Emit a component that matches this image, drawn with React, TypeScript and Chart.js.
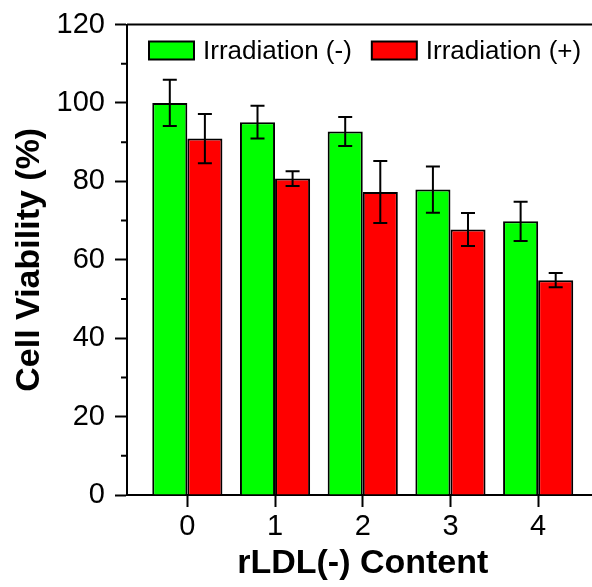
import React, { useEffect, useRef } from "react";
import { Chart, registerables } from "chart.js";

Chart.register(...registerables);

// ---- Data ----
const contentLevels = [0, 1, 2, 3, 4];
const seriesLabels = ["Irradiation (-)", "Irradiation (+)"];
const irradiationMinus = [100, 95.1, 92.7, 77.9, 69.8];
const irradiationMinusErr = [5.9, 4.2, 3.7, 5.9, 5.0];
const irradiationPlus = [90.9, 80.7, 77.3, 67.7, 54.8];
const irradiationPlusErr = [6.3, 1.9, 7.9, 4.2, 1.8];
const yTicks = [0, 20, 40, 60, 80, 100, 120];
const xTitle = "rLDL(-) Content";
const yTitle = "Cell Viability (%)";

const FONT = "'Liberation Sans', Arial, Helvetica, sans-serif";

const errorBarsPlugin = {
  id: "errorBars",
  afterDatasetsDraw(chart: any) {
    const ctx = chart.ctx;
    const yScale = chart.scales.y;
    chart.data.datasets.forEach((ds: any, di: number) => {
      const meta = chart.getDatasetMeta(di);
      const errs: number[] = ds.errors || [];
      meta.data.forEach((el: any, i: number) => {
        const v = ds.data[i].y;
        const e = errs[i];
        if (e == null) return;
        const x = el.x;
        const yTop = yScale.getPixelForValue(v + e);
        const yBot = yScale.getPixelForValue(v - e);
        const cap = 7;
        ctx.save();
        ctx.strokeStyle = "#000";
        ctx.lineWidth = 2;
        ctx.beginPath();
        ctx.moveTo(x, yTop);
        ctx.lineTo(x, yBot);
        ctx.moveTo(x - cap, yTop);
        ctx.lineTo(x + cap, yTop);
        ctx.moveTo(x - cap, yBot);
        ctx.lineTo(x + cap, yBot);
        ctx.stroke();
        ctx.restore();
      });
    });
  },
};

const framePlugin = {
  id: "frame",
  afterDraw(chart: any) {
    const ctx = chart.ctx;
    const { left, right, top, bottom } = chart.chartArea;
    const yScale = chart.scales.y;
    ctx.save();
    ctx.strokeStyle = "#000";
    ctx.lineWidth = 2;
    ctx.beginPath();
    ctx.moveTo(left, top);
    ctx.lineTo(right, top);
    ctx.moveTo(right, top);
    ctx.lineTo(right, bottom);
    // minor ticks halfway between major y ticks
    const t = yScale.ticks;
    for (let i = 0; i < t.length - 1; i++) {
      const mid = (t[i].value + t[i + 1].value) / 2;
      const py = yScale.getPixelForValue(mid);
      ctx.moveTo(left - 6, py);
      ctx.lineTo(left, py);
    }
    ctx.stroke();

    // legend inside plot area
    ctx.font = `26px ${FONT}`;
    ctx.textBaseline = "middle";
    ctx.textAlign = "left";
    let bx = left + 22;
    const by = top + 17;
    const bw = 45;
    const bh = 18;
    chart.data.datasets.forEach((ds: any) => {
      ctx.fillStyle = ds.backgroundColor;
      ctx.fillRect(bx, by, bw, bh);
      ctx.strokeRect(bx, by, bw, bh);
      ctx.fillStyle = "#000";
      const tx = bx + bw + 9;
      ctx.fillText(ds.label, tx, by + bh / 2 + 1);
      bx = tx + ctx.measureText(ds.label).width + 20;
    });
    ctx.restore();
  },
};

export default function App() {
  const canvasRef = useRef<HTMLCanvasElement | null>(null);

  useEffect(() => {
    if (!canvasRef.current) return;
    const chart = new Chart(canvasRef.current, {
      type: "bar",
      data: {
        datasets: [
          {
            label: seriesLabels[0],
            data: contentLevels.map((x, i) => ({ x, y: irradiationMinus[i] })),
            errors: irradiationMinusErr,
            backgroundColor: "#00ff00",
            borderColor: "#000",
            borderWidth: 2,
            borderSkipped: "bottom",
            categoryPercentage: 0.8,
            barPercentage: 1,
          } as any,
          {
            label: seriesLabels[1],
            data: contentLevels.map((x, i) => ({ x, y: irradiationPlus[i] })),
            errors: irradiationPlusErr,
            backgroundColor: "#ff0000",
            borderColor: "#000",
            borderWidth: 2,
            borderSkipped: "bottom",
            categoryPercentage: 0.8,
            barPercentage: 1,
          } as any,
        ],
      },
      options: {
        responsive: false,
        animation: false,
        devicePixelRatio: 1,
        layout: { padding: { top: 24, right: 1.5, left: 0, bottom: 0 } },
        plugins: {
          legend: { display: false },
          tooltip: { enabled: false },
        },
        scales: {
          x: {
            type: "linear",
            bounds: "data",
            min: -0.688,
            max: 4.688,
            offset: false,
            afterBuildTicks: (axis: any) => {
              axis.ticks = contentLevels.map((v) => ({ value: v }));
            },
            afterFit: (scale: any) => {
              scale.height = 92;
            },
            ticks: {
              color: "#000",
              font: { family: FONT, size: 29, lineHeight: 1 },
              padding: 5,
              maxRotation: 0,
              autoSkip: false,
              callback: (v: any) => String(v),
            },
            grid: {
              display: true,
              offset: false,
              drawOnChartArea: false,
              tickLength: 12,
              tickWidth: 2,
              tickColor: "#000",
            },
            border: { display: true, color: "#000", width: 2 },
            title: {
              display: true,
              text: xTitle,
              color: "#000",
              font: { family: FONT, size: 34, weight: "bold", lineHeight: 1 },
              padding: { top: 0, bottom: 6 },
            },
          },
          y: {
            min: 0,
            max: 120,
            afterBuildTicks: (axis: any) => {
              axis.ticks = yTicks.map((v) => ({ value: v }));
            },
            afterFit: (scale: any) => {
              scale.width = 127;
            },
            ticks: {
              color: "#000",
              font: { family: FONT, size: 29, lineHeight: 1 },
              padding: 10,
            },
            grid: {
              display: true,
              drawOnChartArea: false,
              tickLength: 12,
              tickWidth: 2,
              tickColor: "#000",
            },
            border: { display: true, color: "#000", width: 2 },
            title: {
              display: true,
              text: yTitle,
              color: "#000",
              font: { family: FONT, size: 34, weight: "bold", lineHeight: 1 },
              padding: { top: 13, bottom: 0 },
            },
          },
        },
      } as any,
      plugins: [errorBarsPlugin, framePlugin],
    });
    return () => chart.destroy();
  }, []);

  return (
    <div
      style={{
        position: "absolute",
        left: 0,
        top: 0,
        width: 592,
        height: 587,
        overflow: "hidden",
        background: "#fff",
      }}
    >
      <canvas
        ref={canvasRef}
        width={600}
        height={587}
        style={{ display: "block", width: 600, height: 587 }}
      />
    </div>
  );
}
